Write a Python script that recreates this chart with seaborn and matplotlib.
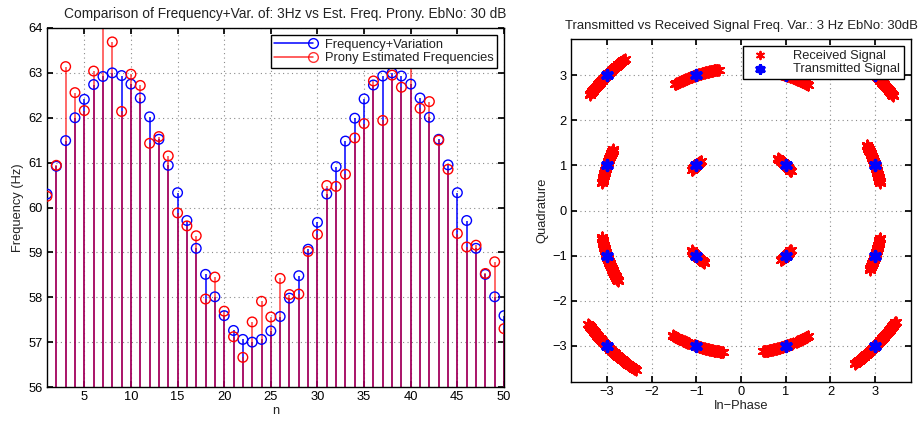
import numpy as np
import matplotlib
matplotlib.use("Agg")
import matplotlib.pyplot as plt
import seaborn as sns
from matplotlib.lines import Line2D
from matplotlib.legend_handler import HandlerLine2D

# ---- left panel: true vs. Prony-estimated frequency per sample ----
n_samples = list(range(1, 51))
freq_variation = [60.30, 60.92, 61.49, 62.00, 62.41, 62.74, 62.92, 63.00, 62.94, 62.75,
                  62.44, 62.02, 61.52, 60.94, 60.33, 59.71, 59.09, 58.51, 58.01, 57.59,
                  57.26, 57.06, 57.00, 57.06, 57.25, 57.57, 57.98, 58.48, 59.07, 59.67,
                  60.30, 60.91, 61.48, 61.99, 62.42, 62.73, 62.93, 63.00, 62.93, 62.75,
                  62.44, 62.01, 61.52, 60.95, 60.33, 59.71, 59.09, 58.51, 58.01, 57.59]
prony_estimate = [60.25, 60.94, 63.14, 62.56, 62.16, 63.04, 64.50, 63.69, 62.14, 62.97,
                  62.72, 61.43, 61.58, 61.15, 59.88, 59.59, 59.37, 57.96, 58.45, 57.69,
                  57.12, 56.66, 57.45, 57.91, 57.56, 58.42, 58.06, 58.07, 59.02, 59.40,
                  60.49, 60.47, 60.74, 61.55, 61.87, 62.82, 61.94, 62.95, 62.68, 63.50,
                  62.21, 62.36, 61.50, 60.85, 59.42, 59.12, 59.16, 58.53, 58.79, 57.30]
freq_ticks = [56, 57, 58, 59, 60, 61, 62, 63, 64]
n_ticks = [5, 10, 15, 20, 25, 30, 35, 40, 45, 50]

# ---- right panel: 16-QAM constellation and received (phase-rotated) arcs ----
tx_inphase = [-3, -1, 1, 3, -3, -1, 1, 3, -3, -1, 1, 3, -3, -1, 1, 3]
tx_quadrature = [3, 3, 3, 3, 1, 1, 1, 1, -1, -1, -1, -1, -3, -3, -3, -3]
# phase-rotation spans (degrees) seen by each received symbol
seg_inphase = [-3, -1, 1, 3, -3, -1, 1, 3, -3, -1, 1, 3, -3, -1, -1, -1, 1, 1, 3]
seg_quadrature = [3, 3, 3, 3, 1, 1, 1, 1, -1, -1, -1, -1, -3, -3, -3, -3, -3, -3, -3]
seg_phase_start = [-7.2, -9.3, -10.0, -8.3, -6.9, -5.7, -6.9, -7.2, -7.9, -6.3, -6.0, -6.1,
                   -8.7, -10.5, -6.3, -1.0, -9.5, 4.5, -8.2]
seg_phase_end = [8.0, 9.5, 9.0, 9.0, 7.5, 5.8, 9.8, 9.1, 11.2, 9.7, 6.5, 7.6,
                 11.4, -7.3, -3.0, 11.3, 3.0, 10.2, 9.6]
iq_ticks = [-3, -2, -1, 0, 1, 2, 3]

sns.set_theme(style="ticks")
plt.rcParams["font.family"] = ["Liberation Sans", "DejaVu Sans"]
plt.rcParams.update({
    "axes.edgecolor": "black",
    "axes.linewidth": 1.0,
    "xtick.direction": "in",
    "ytick.direction": "in",
    "xtick.major.size": 4,
    "ytick.major.size": 4,
    "xtick.color": "black",
    "ytick.color": "black",
    "axes.labelsize": 9.3,
    "text.color": "#222222",
    "axes.labelcolor": "#222222",
})

fig = plt.figure(figsize=(9.24, 4.21), dpi=100)
W, H = 924, 421
ax1 = fig.add_axes([47 / W, (H - 387) / H, (504 - 47) / W, (387 - 28) / H])
ax2 = fig.add_axes([571 / W, (H - 382) / H, (911 - 571) / W, (382 - 39) / H])

grid_kw = dict(color="#8a8a8a", linestyle=(0, (1, 3)), linewidth=0.8)


class StemHandler(HandlerLine2D):
    """Legend entry drawn as a stem: a line with the marker at its right end."""

    def create_artists(self, legend, orig_handle, xdescent, ydescent, width, height,
                       fontsize, trans):
        artists = super().create_artists(legend, orig_handle, xdescent, ydescent,
                                         width, height, fontsize, trans)
        xend = width - xdescent
        for a in artists:
            xd = np.asarray(a.get_xdata())
            if a.get_markevery() is not None and len(xd) > 1:
                a.set_markevery([len(xd) - 1])
            elif a.get_linestyle() in ("None", "none", "") and len(xd) == 1:
                a.set_xdata([xend])
        return artists


# left: stems from the zero baseline (clipped by the y-range)
ax1.vlines(n_samples, 0, freq_variation, color="blue", lw=1.1, zorder=2)
ax1.vlines(n_samples, 0, prony_estimate, color="red", lw=1.1, alpha=0.75, zorder=2.5)
sns.scatterplot(x=n_samples, y=freq_variation, ax=ax1, marker="o", s=48,
                facecolor="none", edgecolor="blue", linewidth=1.0, zorder=3)
sns.scatterplot(x=n_samples, y=prony_estimate, ax=ax1, marker="o", s=48,
                facecolor="none", edgecolor="red", linewidth=1.0, zorder=3.5)
ax1.set_xlim(1, 50)
ax1.set_ylim(56, 64)
ax1.set_xticks(n_ticks)
ax1.set_yticks(freq_ticks)
ax1.tick_params(top=True, right=True, labelsize=9.3, pad=3)
ax1.grid(True, **grid_kw)
ax1.set_xlabel("n", labelpad=1)
ax1.set_ylabel("Frequency (Hz)", labelpad=3)
title1 = ax1.set_title("Comparison of Frequency+Var. of: 3Hz vs Est. Freq. Prony. EbNo: 30 dB",
                       fontsize=9.9, pad=7)
title1.set_x(0.522)
h_blue = Line2D([0], [0], color="blue", lw=1.1, marker="o", mfc="none", mec="blue", ms=7)
h_red = Line2D([0], [0], color="red", lw=1.1, alpha=0.8, marker="o", mfc="none",
               mec="red", ms=7)
leg1 = ax1.legend([h_blue, h_red], ["Frequency+Variation", "Prony Estimated Frequencies"],
                  loc="upper right", fontsize=9.3, handlelength=3.0, handletextpad=0.9,
                  borderaxespad=0.55, fancybox=False, framealpha=1, edgecolor="black",
                  numpoints=1, labelspacing=0.12, borderpad=0.28,
                  handler_map={Line2D: StemHandler()})
leg1.get_frame().set_linewidth(1.0)

# right: received symbols rotated by the residual frequency offset
rx_i, rx_q = [], []
for si, sq, p0, p1 in zip(seg_inphase, seg_quadrature, seg_phase_start, seg_phase_end):
    phi = np.deg2rad(np.arange(p0, p1 + 1e-9, 0.25))
    sym = (si + 1j * sq) * np.exp(1j * phi)
    rx_i.extend(sym.real)
    rx_q.extend(sym.imag)

asterisk = (6, 2, 0)
sns.scatterplot(x=rx_i, y=rx_q, ax=ax2, marker=asterisk, s=52, color="red",
                linewidth=1.4, label="Received Signal", zorder=2)
sns.scatterplot(x=tx_inphase, y=tx_quadrature, ax=ax2, marker=asterisk, s=50,
                color="blue", linewidth=2.6, label="Transmitted Signal", zorder=3)
ax2.set_xlim(-3.8, 3.8)
ax2.set_ylim(-3.8, 3.8)
ax2.set_xticks(iq_ticks)
ax2.set_yticks(iq_ticks)
ax2.tick_params(top=True, right=True, labelsize=9.3, pad=3)
ax2.grid(True, **grid_kw)
ax2.set_xlabel("In\u2212Phase", labelpad=1)
ax2.set_ylabel("Quadrature", labelpad=3)
ax2.set_title("Transmitted vs Received Signal Freq. Var.: 3 Hz EbNo: 30dB", fontsize=9.45,
              pad=7)
leg2 = ax2.legend(loc="upper right", fontsize=9.3, handletextpad=1.6, borderaxespad=0.55,
                  fancybox=False, framealpha=1, edgecolor="black", labelspacing=0.12,
                  borderpad=0.28, markerscale=0.75)
leg2.get_frame().set_linewidth(1.0)

for ax in (ax1, ax2):
    for sp in ax.spines.values():
        sp.set_visible(True)
        sp.set_color("black")

fig.savefig("out.png", dpi=100)
